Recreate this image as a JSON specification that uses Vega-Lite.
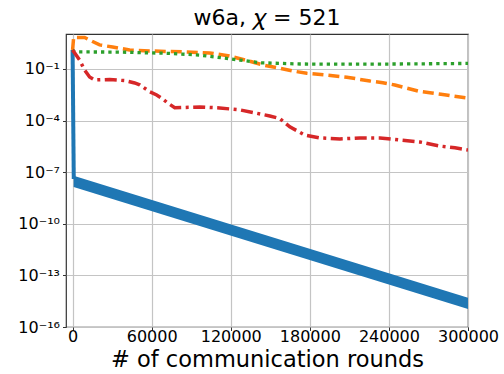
{
  "$schema": "https://vega.github.io/schema/vega-lite/v6.json",
  "width": 402,
  "height": 293,
  "autosize": {"type": "none"},
  "padding": {"left": 66, "top": 34, "right": 36, "bottom": 47},
  "background": "white",
  "title": {"text": "w6a, 𝜒 = 521", "fontSize": 22, "font": "DejaVu Sans", "fontWeight": "normal", "color": "black", "offset": 4},
  "config": {
    "view": {"stroke": "#333333", "strokeWidth": 1.2},
    "axis": {
      "labelFont": "DejaVu Sans", "labelFontSize": 16, "labelColor": "black",
      "titleFont": "DejaVu Sans", "titleFontSize": 22.5, "titleFontWeight": "normal", "titleColor": "black",
      "gridColor": "#c4c4c4", "gridWidth": 1.2, "tickColor": "#333333", "tickSize": 3.5, "tickWidth": 1,
      "domain": false, "labelOverlap": false, "labelFlush": false
    }
  },
  "datasets": {
    "blue_drop": [
      {"x": 0, "y": 1.27},
      {"x": 900, "y": 4e-8}
    ],
    "blue_band": [
      {"x": 800, "hi": 6.2e-8, "lo": 1.4e-8},
      {"x": 300000, "hi": 5.0e-15, "lo": 1.1e-15}
    ],
    "orange": [
      {"x": 0, "y": 1.27},
      {"x": 800, "y": 6.9},
      {"x": 9100, "y": 6.8},
      {"x": 12900, "y": 4.85},
      {"x": 20500, "y": 2.5},
      {"x": 30400, "y": 1.9},
      {"x": 43300, "y": 1.27},
      {"x": 58500, "y": 1.11},
      {"x": 86600, "y": 0.98},
      {"x": 104000, "y": 0.85},
      {"x": 119000, "y": 0.57},
      {"x": 134000, "y": 0.29},
      {"x": 144300, "y": 0.171},
      {"x": 157200, "y": 0.11},
      {"x": 167100, "y": 0.0766},
      {"x": 177700, "y": 0.056},
      {"x": 191400, "y": 0.045},
      {"x": 208100, "y": 0.033},
      {"x": 216500, "y": 0.026},
      {"x": 225600, "y": 0.02},
      {"x": 235400, "y": 0.016},
      {"x": 244500, "y": 0.0117},
      {"x": 252200, "y": 0.0082},
      {"x": 262000, "y": 0.0052},
      {"x": 271100, "y": 0.0042},
      {"x": 279500, "y": 0.0034},
      {"x": 287800, "y": 0.0027},
      {"x": 300000, "y": 0.002}
    ],
    "green": [
      {"x": 0, "y": 1.27},
      {"x": 1500, "y": 0.98},
      {"x": 5300, "y": 0.98},
      {"x": 35400, "y": 0.96},
      {"x": 73400, "y": 0.81},
      {"x": 96500, "y": 0.64},
      {"x": 126800, "y": 0.33},
      {"x": 142000, "y": 0.23},
      {"x": 172600, "y": 0.195},
      {"x": 202800, "y": 0.19},
      {"x": 248400, "y": 0.195},
      {"x": 300000, "y": 0.21}
    ],
    "red": [
      {"x": 0, "y": 1.27},
      {"x": 5300, "y": 0.33},
      {"x": 9100, "y": 0.087},
      {"x": 12900, "y": 0.034},
      {"x": 16700, "y": 0.023},
      {"x": 28100, "y": 0.0245},
      {"x": 39500, "y": 0.021},
      {"x": 47100, "y": 0.0154},
      {"x": 50900, "y": 0.012},
      {"x": 58500, "y": 0.0048},
      {"x": 63800, "y": 0.0031},
      {"x": 68400, "y": 0.0018},
      {"x": 72200, "y": 0.00105},
      {"x": 77500, "y": 0.00056},
      {"x": 96500, "y": 0.00062},
      {"x": 111600, "y": 0.00054},
      {"x": 126800, "y": 0.00042},
      {"x": 138200, "y": 0.00028},
      {"x": 149600, "y": 0.000186},
      {"x": 157200, "y": 0.000132},
      {"x": 164800, "y": 4.3e-5},
      {"x": 176200, "y": 1.45e-5},
      {"x": 187600, "y": 9.8e-6},
      {"x": 202800, "y": 8.5e-6},
      {"x": 218000, "y": 9.8e-6},
      {"x": 233200, "y": 9.8e-6},
      {"x": 248400, "y": 7.4e-6},
      {"x": 263500, "y": 5.7e-6},
      {"x": 278700, "y": 3.3e-6},
      {"x": 290100, "y": 2.6e-6},
      {"x": 300000, "y": 1.95e-6}
    ]
  },
  "layer": [
    {
      "data": {"name": "blue_band"},
      "mark": {"type": "area", "color": "#1f77b4", "clip": true},
      "encoding": {
        "x": {"field": "x", "type": "quantitative",
          "scale": {"domain": [-5000, 300000], "nice": false, "zero": false},
          "axis": {"values": [0, 60000, 120000, 180000, 240000, 300000], "format": "d", "title": "# of communication rounds", "titlePadding": 4, "labelPadding": -2}},
        "y": {"field": "hi", "type": "quantitative",
          "scale": {"type": "log", "domain": [1e-16, 10.8], "nice": false},
          "axis": {"values": [1e-16, 1e-13, 1e-10, 1e-7, 1e-4, 1e-1], "title": null, "labelPadding": 3,
            "labelExpr": "datum.value < 1e-15 ? '10⁻¹⁶' : datum.value < 1e-12 ? '10⁻¹³' : datum.value < 1e-9 ? '10⁻¹⁰' : datum.value < 1e-6 ? '10⁻⁷' : datum.value < 1e-3 ? '10⁻⁴' : '10⁻¹'"}},
        "y2": {"field": "lo"}
      }
    },
    {
      "data": {"name": "blue_drop"},
      "mark": {"type": "line", "color": "#1f77b4", "strokeWidth": 4, "clip": true},
      "encoding": {
        "x": {"field": "x", "type": "quantitative"},
        "y": {"field": "y", "type": "quantitative"}
      }
    },
    {
      "data": {"name": "orange"},
      "mark": {"type": "line", "color": "#ff7f0e", "strokeWidth": 3.5, "strokeDash": [11, 5], "clip": true},
      "encoding": {
        "x": {"field": "x", "type": "quantitative"},
        "y": {"field": "y", "type": "quantitative"}
      }
    },
    {
      "data": {"name": "green"},
      "mark": {"type": "line", "color": "#2ca02c", "strokeWidth": 3.3, "strokeDash": [3.3, 4], "clip": true},
      "encoding": {
        "x": {"field": "x", "type": "quantitative"},
        "y": {"field": "y", "type": "quantitative"}
      }
    },
    {
      "data": {"name": "red"},
      "mark": {"type": "line", "color": "#d62728", "strokeWidth": 3.5, "strokeDash": [12, 4.5, 3, 4.5], "clip": true},
      "encoding": {
        "x": {"field": "x", "type": "quantitative"},
        "y": {"field": "y", "type": "quantitative"}
      }
    }
  ]
}
